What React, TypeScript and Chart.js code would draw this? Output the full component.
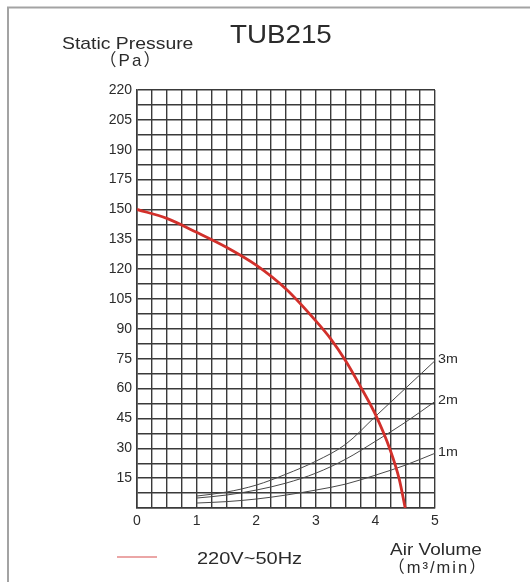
import React, { useEffect, useRef } from "react";
import { Chart, registerables } from "chart.js";

Chart.register(...registerables);

// ---- data ----
const fanAirVolume = [0, 0.5, 1, 1.5, 2, 2.5, 3, 3.25, 3.5, 3.75, 4, 4.25, 4.4, 4.5];
const fanPressure = [150, 145.5, 138.5, 131, 122, 110, 94, 85, 74, 61, 47, 29, 14.5, 0];

const ductAirVolume = [1, 1.5, 2, 2.5, 3, 3.5, 4, 4.5, 5];
const duct3m = [6, 8, 11.5, 17, 23.5, 32, 46, 60, 74];
const duct2m = [5, 6.5, 9, 12.5, 17.5, 24.5, 33.5, 43, 53.5];
const duct1m = [2.5, 3.2, 4.5, 6.5, 9, 12, 16.5, 21.5, 27.5];
const ductLabels = ["3m", "2m", "1m"];

// y tick labels at each 15-Pa grid step (index = value / 15)
const yTickLabels = ["", "15", "30", "45", "60", "75", "90", "105", "120", "135", "150", "175", "190", "205", "220"];
const xTickLabels = ["0", "1", "2", "3", "4", "5"];

const titleText = "TUB215";
const yTitle = "Static Pressure";
const yUnit = "（Pa）";
const xTitle = "Air Volume";
const xUnit = "（m³/min）";
const legendText = "220V~50Hz";

const FONT = '"Liberation Sans", Arial, Helvetica, sans-serif';
const HTML_FONT = '"Liberation Sans", "Noto Sans CJK SC", sans-serif';
const TEXT = "#2b2b2b";
const GRID = "#3a3a3a";

function drawText(ctx: CanvasRenderingContext2D, text: string, x: number, y: number, size: number, sx: number, align: CanvasTextAlign, baseline: CanvasTextBaseline = "alphabetic") {
  ctx.save();
  ctx.font = `${size}px ${FONT}`;
  ctx.fillStyle = TEXT;
  ctx.translate(x, y);
  ctx.scale(sx, 1);
  ctx.textAlign = align;
  ctx.textBaseline = baseline;
  ctx.fillText(text, 0, 0);
  ctx.restore();
}

const decorPlugin = {
  id: "decor",
  beforeDraw(chart: any) {
    const ctx = chart.ctx as CanvasRenderingContext2D;
    ctx.save();
    ctx.fillStyle = "#ffffff";
    ctx.fillRect(0, 0, chart.width, chart.height);
    ctx.strokeStyle = "#a3a3a3";
    ctx.lineWidth = 2;
    ctx.beginPath();
    ctx.moveTo(530, 7.5);
    ctx.lineTo(8, 7.5);
    ctx.lineTo(8, 582);
    ctx.stroke();
    ctx.restore();
  },
  afterDraw(chart: any) {
    const ctx = chart.ctx as CanvasRenderingContext2D;
    const xs = chart.scales.x;
    const ys = chart.scales.y;
    drawText(ctx, titleText, 230, 43, 25, 1.11, "left");
    drawText(ctx, yTitle, 62, 49, 17, 1.14, "left");
    drawText(ctx, xTitle, 436, 555, 16.5, 1.15, "center");
    drawText(ctx, legendText, 197, 564, 16, 1.25, "left");
    ctx.save();
    ctx.strokeStyle = "#e58888";
    ctx.lineWidth = 1.5;
    ctx.beginPath();
    ctx.moveTo(117, 557);
    ctx.lineTo(157, 557);
    ctx.stroke();
    ctx.restore();
    const ends = [duct3m, duct2m, duct1m];
    ends.forEach((arr, i) => {
      const last = arr.length - 1;
      const px = xs.getPixelForValue(ductAirVolume[last]);
      const py = ys.getPixelForValue(arr[last]);
      drawText(ctx, ductLabels[i], px + 3, py - 1, 13, 1.1, "left", "middle");
    });
  },
};

const unitStyle = (cx: number, top: number, size: number): React.CSSProperties => ({
  position: "absolute",
  left: cx - 100,
  top,
  width: 200,
  textAlign: "center",
  fontFamily: HTML_FONT,
  fontSize: size,
  lineHeight: `${size}px`,
  letterSpacing: "2px",
  color: TEXT,
  whiteSpace: "nowrap",
  margin: 0,
});

export default function App() {
  const ref = useRef<HTMLCanvasElement | null>(null);
  useEffect(() => {
    if (!ref.current) return;
    const toPts = (xsArr: number[], ysArr: number[]) => xsArr.map((x, i) => ({ x, y: ysArr[i] }));
    const thin = (data: any) => ({
      data,
      borderColor: "#4a4a4a",
      borderWidth: 1,
      pointRadius: 0,
      showLine: true,
      cubicInterpolationMode: "monotone" as const,
      fill: false,
    });
    const chart = new Chart(ref.current, {
      type: "scatter",
      data: {
        datasets: [
          {
            label: legendText,
            data: toPts(fanAirVolume, fanPressure),
            borderColor: "#d2302b",
            borderWidth: 2.8,
            pointRadius: 0,
            showLine: true,
            cubicInterpolationMode: "monotone",
            fill: false,
          },
          thin(toPts(ductAirVolume, duct3m)),
          thin(toPts(ductAirVolume, duct2m)),
          thin(toPts(ductAirVolume, duct1m)),
        ],
      },
      options: {
        responsive: false,
        animation: false,
        layout: { padding: { left: 0, top: 90, right: 95, bottom: 44 } },
        plugins: { legend: { display: false }, tooltip: { enabled: false }, title: { display: false } },
        scales: {
          x: {
            type: "linear",
            min: 0,
            max: 5,
            ticks: {
              stepSize: 0.25,
              autoSkip: false,
              maxRotation: 0,
              padding: 5,
              color: TEXT,
              font: { family: FONT, size: 14 },
              callback: (v: any) => {
                const n = Number(v);
                return Number.isInteger(n) ? xTickLabels[n] : "";
              },
            },
            grid: { color: GRID, lineWidth: 1.4, drawTicks: false },
            border: { color: GRID, width: 1.6 },
            afterFit: (s: any) => {
              s.height = 30;
            },
          },
          y: {
            type: "linear",
            min: 0,
            max: 210,
            ticks: {
              stepSize: 7.5,
              autoSkip: false,
              padding: 5,
              color: TEXT,
              font: { family: FONT, size: 14 },
              callback: (v: any) => {
                const n = Number(v);
                return n % 15 === 0 ? yTickLabels[n / 15] : "";
              },
            },
            grid: { color: GRID, lineWidth: 1.4, drawTicks: false },
            border: { color: GRID, width: 1.6 },
            afterFit: (s: any) => {
              s.width = 137;
            },
          },
        },
      },
      plugins: [decorPlugin],
    });
    return () => chart.destroy();
  }, []);
  return (
    <div style={{ position: "fixed", left: 0, top: 0, width: 530, height: 582, background: "#fff" }}>
      <canvas ref={ref} width={530} height={582} style={{ display: "block" }} />
      <div style={unitStyle(131, 51.6, 17)}>{yUnit}</div>
      <div style={unitStyle(438, 559, 16.5)}>{xUnit}</div>
    </div>
  );
}
